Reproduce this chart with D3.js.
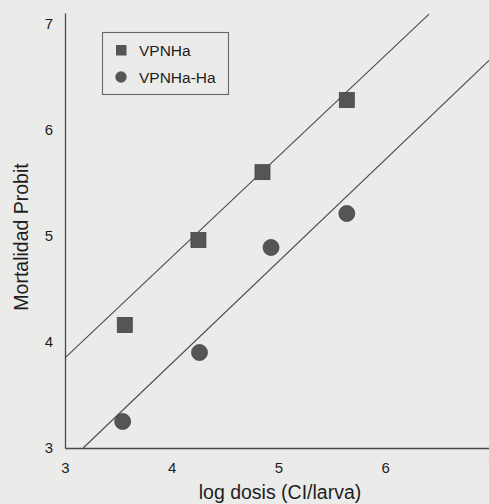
<!DOCTYPE html>
<html>
<head>
<meta charset="utf-8">
<script src="https://cdn.jsdelivr.net/npm/d3@7"></script>
<style>
  html, body { margin: 0; padding: 0; background: #ebebea; }
  svg { display: block; }
  text { font-family: "Liberation Sans", Arial, Helvetica, sans-serif; fill: #1e1e1e; }
</style>
</head>
<body>
<svg id="chart" width="489" height="504"></svg>
<script>
// ---- data ----
const xTicks = [3, 4, 5, 6, 7];
const yTicks = [3, 4, 5, 6, 7];
const seriesNames = ["VPNHa", "VPNHa-Ha"];
const vpnhaX = [3.56, 4.25, 4.85, 5.64];
const vpnhaY = [4.16, 4.96, 5.60, 6.28];
const vpnhahaX = [3.54, 4.26, 4.93, 5.64];
const vpnhahaY = [3.25, 3.90, 4.89, 5.21];
const vpnhaFitX = [3.0, 6.41];
const vpnhaFitY = [3.85, 7.09];
const vpnhahaFitX = [3.17, 7.0];
const vpnhahaFitY = [3.0, 6.68];
const xTitle = "log dosis (CI/larva)";
const yTitle = "Mortalidad Probit";

// ---- layout ----
const svg = d3.select("#chart");
const x = d3.scaleLinear().domain([3, 7]).range([65, 492]);
const y = d3.scaleLinear().domain([3, 7.1]).range([448, 13]);

const ink = "#4a4a4a";

// axes
const xAxis = svg.append("g").attr("transform", `translate(0,${y(3)})`)
  .call(d3.axisBottom(x).tickValues(xTicks).tickSize(0).tickPadding(14).tickFormat(d3.format("d")));
xAxis.select(".domain").attr("stroke", ink).attr("stroke-width", 1.3);
xAxis.selectAll("text").style("font-size", "15px").attr("fill", "#1e1e1e");

const yAxis = svg.append("g").attr("transform", `translate(${x(3)},0)`)
  .call(d3.axisLeft(y).tickValues(yTicks).tickSize(0).tickPadding(12).tickFormat(d3.format("d")));
yAxis.select(".domain").attr("stroke", ink).attr("stroke-width", 1.3);
yAxis.selectAll("text").style("font-size", "15px").attr("fill", "#1e1e1e");

// fitted lines
const line = d3.line().x(d => x(d[0])).y(d => y(d[1]));
svg.append("path").datum(vpnhaFitX.map((v, i) => [v, vpnhaFitY[i]]))
  .attr("d", line).attr("fill", "none").attr("stroke", ink).attr("stroke-width", 1.1);
svg.append("path").datum(vpnhahaFitX.map((v, i) => [v, vpnhahaFitY[i]]))
  .attr("d", line).attr("fill", "none").attr("stroke", ink).attr("stroke-width", 1.1);

// markers
const sq = 15;
svg.append("g").selectAll("rect").data(vpnhaX.map((v, i) => [v, vpnhaY[i]])).join("rect")
  .attr("x", d => x(d[0]) - sq / 2).attr("y", d => y(d[1]) - sq / 2)
  .attr("width", sq).attr("height", sq)
  .attr("fill", "#555").attr("stroke", "#444").attr("stroke-width", 0.8);
svg.append("g").selectAll("circle").data(vpnhahaX.map((v, i) => [v, vpnhahaY[i]])).join("circle")
  .attr("cx", d => x(d[0])).attr("cy", d => y(d[1])).attr("r", 8)
  .attr("fill", "#555").attr("stroke", "#444").attr("stroke-width", 0.8);

// legend
const lg = svg.append("g");
lg.append("rect").attr("x", 102.5).attr("y", 32.5).attr("width", 126).attr("height", 62)
  .attr("fill", "none").attr("stroke", "#666").attr("stroke-width", 1.1);
lg.append("rect").attr("x", 116).attr("y", 45).attr("width", 10.5).attr("height", 10.5).attr("fill", "#555");
lg.append("circle").attr("cx", 121).attr("cy", 77).attr("r", 5.7).attr("fill", "#555");
lg.append("text").attr("x", 139).attr("y", 55.5).style("font-size", "15.5px").text(seriesNames[0]);
lg.append("text").attr("x", 139).attr("y", 82.5).style("font-size", "15.5px").text(seriesNames[1]);

// titles
svg.append("text").attr("x", 280).attr("y", 499).attr("text-anchor", "middle")
  .style("font-size", "19.5px").text(xTitle);
svg.append("text").attr("transform", "translate(28,237) rotate(-90)").attr("text-anchor", "middle")
  .style("font-size", "19.5px").text(yTitle);
</script>
</body>
</html>
